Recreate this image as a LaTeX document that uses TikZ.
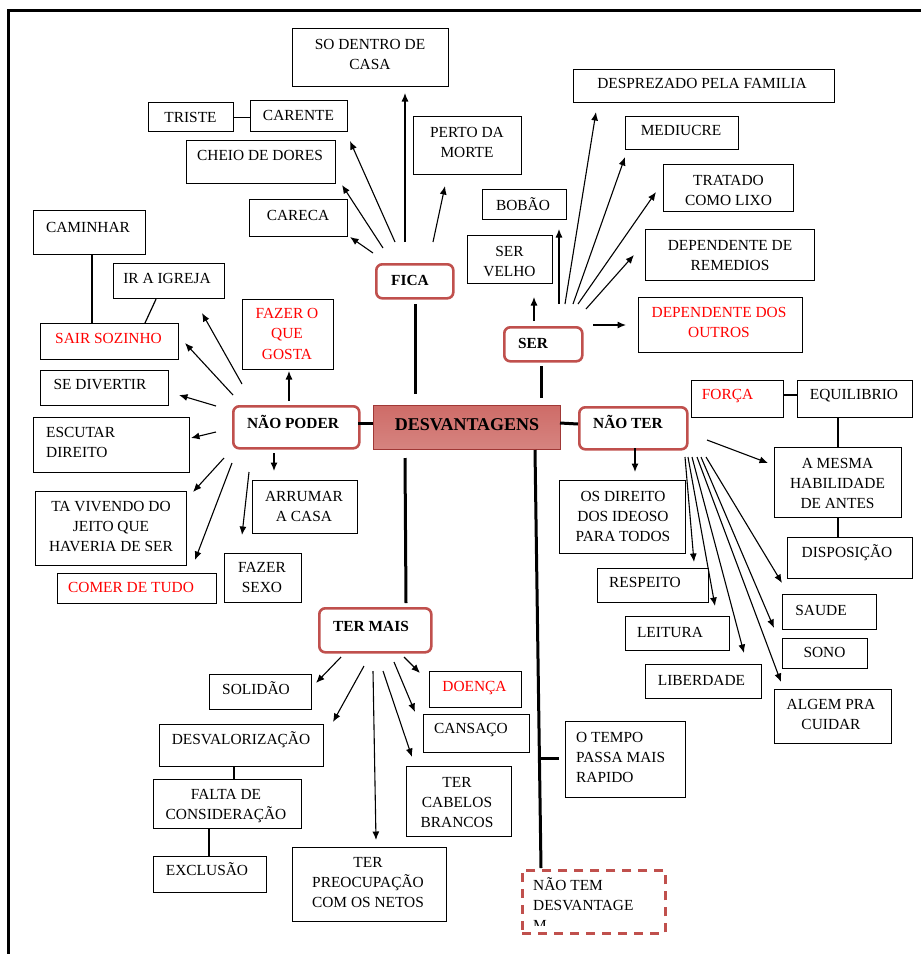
\documentclass[tikz,border=0pt]{standalone}
\usepackage{fontspec}
\setmainfont{Liberation Serif}
\usetikzlibrary{arrows.meta,calc}
\definecolor{hubred}{RGB}{192,80,77}
\definecolor{coretop}{RGB}{206,108,104}
\definecolor{coremid}{RGB}{186,68,66}
\definecolor{corebot}{RGB}{214,132,128}
\definecolor{coreline}{RGB}{160,56,54}
\tikzset{
 box/.style={draw=black, line width=1.2pt, rectangle, inner sep=0pt, fill=white},
 hub/.style={draw=hubred, line width=2.6pt, rounded corners=6pt, rectangle, inner sep=0pt, fill=white},
 dbox/.style={draw=hubred, line width=2.6pt, dash pattern=on 9pt off 7pt, rectangle, inner sep=0pt},
 core/.style={draw=coreline, line width=1pt, top color=coretop, middle color=coremid, bottom color=corebot, rectangle, inner sep=0pt},
 lbl/.style={inner sep=0pt, align=center, font=\fontsize{15.4}{20}\selectfont, anchor=north},
 hl/.style={font=\fontsize{15.4}{20}\selectfont\bfseries},
 lft/.style={align=left, anchor=north west},
 rt/.style={text=red},
 arr/.style={-{Latex[length=8.5pt,width=7pt]}, line width=1.1pt},
 thk/.style={line width=3pt},
 link/.style={line width=1.2pt},
}
\newcommand\bx[6]{\node[#2, anchor=north west, minimum width={(#5-#3)*1pt}, minimum height={(#6-#4)*1pt}] (#1) at (#3,#4) {};}
\newcommand\tx[5]{\node[lbl,#2] (#1-t) at (#3,#4-14) {\rule{0pt}{14pt}#5};}
\newcommand\ar[6]{\draw[arr] ([shift={(#2,#3)}]#1.north west) -- ([shift={(#5,#6)}]#4.north west);}
\begin{document}
\begin{tikzpicture}[x=1pt,y=-1pt]
\useasboundingbox (0,0) rectangle (921,954);
\draw[line width=3pt] (8,954) -- (8,10.5) -- (921,10.5);

% ---------- central node
\bx{desv}{core}{373}{405}{560}{449}
\tx{desv}{font=\fontsize{18}{22}\selectfont\bfseries}{467}{430}{DESVANTAGENS}

% ---------- FICA
\bx{fica}{hub}{375}{263}{452}{297} \tx{fica}{hl}{410}{285}{FICA}
\bx{sodentro}{box}{292}{28}{448}{86} \tx{sodentro}{}{370}{49}{SO DENTRO DE\\CASA}
\bx{triste}{box}{148}{102}{233}{131} \tx{triste}{}{190.5}{122}{TRISTE}
\bx{carente}{box}{250}{100}{347}{131} \tx{carente}{}{298.5}{120}{CARENTE}
\bx{cheio}{box}{186}{140}{335}{183} \tx{cheio}{}{260}{160}{CHEIO DE DORES}
\bx{careca}{box}{249}{199}{347}{236} \tx{careca}{}{298}{220}{CARECA}
\bx{perto}{box}{413}{116}{521}{174} \tx{perto}{}{467}{137}{PERTO DA\\MORTE}
\draw[link] (triste.east) -- (triste.east -| carente.west);
\ar{fica}{30}{-21}{sodentro}{113}{65}
\ar{fica}{58}{-21}{perto}{32}{70}
\ar{fica}{20}{-21}{carente}{100}{41}
\ar{fica}{8}{-15}{cheio}{156}{45}
\ar{fica}{-2}{-10}{careca}{101}{38}
\draw[thk] ([shift={(40,41)}]fica.north west) -- ([shift={(42,-11)}]desv.north west);

% ---------- SER
\bx{ser}{hub}{503}{326}{581}{360} \tx{ser}{hl}{533}{348}{SER}
\bx{servelho}{box}{467}{235}{552}{283} \tx{servelho}{}{509.5}{256}{SER\\VELHO}
\bx{bobao}{box}{482}{189}{566}{219} \tx{bobao}{}{523}{210}{BOBÃO}
\bx{desprezado}{box}{573}{69}{834}{102} \tx{desprezado}{}{702}{88}{DESPREZADO PELA FAMILIA}
\bx{mediucre}{box}{625}{116}{738}{149} \tx{mediucre}{}{681}{135}{MEDIUCRE}
\bx{tratado}{box}{663}{164}{793}{211} \tx{tratado}{}{728.5}{185}{TRATADO\\COMO LIXO}
\bx{deprem}{box}{645}{229}{814}{280} \tx{deprem}{}{730}{250}{DEPENDENTE DE\\REMEDIOS}
\bx{depout}{box}{638}{297}{802}{352} \tx{depout}{rt}{719}{317}{DEPENDENTE DOS\\OUTROS}
\ar{ser}{31}{-5}{servelho}{67}{62}
\ar{ser}{56}{-22}{bobao}{77}{40}
\ar{ser}{62}{-22}{desprezado}{23}{43}
\ar{ser}{70}{-22}{mediucre}{0}{41}
\ar{ser}{75}{-22}{tratado}{-7}{28}
\ar{ser}{83}{-17}{deprem}{-11}{26}
\ar{ser}{90}{-1}{depout}{-12}{28}
\draw[thk] ([shift={(38,40)}]ser.north west) -- ([shift={(168,-7)}]desv.north west);

% ---------- NAO PODER
\bx{np}{hub}{232}{405}{358}{447} \tx{np}{hl}{293}{428}{NÃO PODER}
\bx{fazer}{box}{242}{299}{333}{369} \tx{fazer}{rt,font=\fontsize{15.4}{20.5}\selectfont}{287}{318}{FAZER O\\QUE\\GOSTA}
\bx{caminhar}{box}{33}{210}{145}{254} \tx{caminhar}{}{88}{232}{CAMINHAR}
\bx{igreja}{box}{113}{263}{224}{298} \tx{igreja}{}{167}{283}{IR A IGREJA}
\bx{sair}{box}{40}{323}{178}{359} \tx{sair}{rt}{108.5}{343}{SAIR SOZINHO}
\bx{divertir}{box}{40}{370}{168}{405} \tx{divertir}{}{100}{389}{SE DIVERTIR}
\bx{escutar}{box}{33}{417}{189}{472} \tx{escutar}{lft}{46}{437}{ESCUTAR\\DIREITO}
\bx{tavivendo}{box}{35}{491}{186}{565} \tx{tavivendo}{}{111}{511}{TA VIVENDO DO\\JEITO QUE\\HAVERIA DE SER}
\bx{comer}{box}{57}{573}{216}{603} \tx{comer}{rt}{131}{592}{COMER DE TUDO}
\bx{sexo}{box}{224}{553}{301}{602} \tx{sexo}{}{262}{572}{FAZER\\SEXO}
\bx{arrumar}{box}{252}{480}{357}{533} \tx{arrumar}{}{304}{501}{ARRUMAR\\A CASA}
\draw[link] ([shift={(59,0)}]caminhar.south west) -- ([shift={(52,0)}]sair.north west);
\draw[link] ([shift={(43,0)}]igreja.south west) -- ([shift={(105,0)}]sair.north west);
\ar{np}{10}{-21}{igreja}{89}{50}
\ar{np}{1}{-10}{sair}{145}{20}
\ar{np}{-16}{1}{divertir}{139}{25}
\ar{np}{-16}{27}{escutar}{158}{21}
\ar{np}{-8}{53}{tavivendo}{158}{1}
\ar{np}{0}{58}{comer}{138}{-13}
\ar{np}{17}{67}{sexo}{18}{-18}
\ar{np}{42}{48}{arrumar}{22}{-9}
\ar{np}{57}{-4}{fazer}{47}{72}
\draw[thk] ([shift={(126,18)}]np.north west) -- ([shift={(0,18)}]desv.north west);

% ---------- NAO TER
\bx{naoter}{hub}{578}{406}{686}{448} \tx{naoter}{hl}{628}{428}{NÃO TER}
\bx{forca}{box}{691}{380}{783}{417} \tx{forca}{rt}{727.5}{399}{FORÇA}
\bx{equil}{box}{797}{380}{912}{417} \tx{equil}{}{854}{399}{EQUILIBRIO}
\bx{mesma}{box}{774}{447}{901}{517} \tx{mesma}{}{837.5}{468}{A MESMA\\HABILIDADE\\DE ANTES}
\bx{dispo}{box}{787}{537}{912}{578} \tx{dispo}{}{847}{557}{DISPOSIÇÃO}
\bx{osdireito}{box}{559}{480}{685}{553} \tx{osdireito}{}{623}{501}{OS DIREITO\\DOS IDEOSO\\PARA TODOS}
\bx{respeito}{box}{597}{568}{708}{602} \tx{respeito}{}{645}{587}{RESPEITO}
\bx{saude}{box}{782}{594}{876}{629} \tx{saude}{}{821}{615}{SAUDE}
\bx{leitura}{box}{625}{616}{729}{650} \tx{leitura}{}{670}{637}{LEITURA}
\bx{sono}{box}{782}{638}{867}{668} \tx{sono}{}{824.5}{657}{SONO}
\bx{liberdade}{box}{645}{664}{761}{698} \tx{liberdade}{}{701.5}{685}{LIBERDADE}
\bx{algem}{box}{774}{689}{891}{743} \tx{algem}{}{831}{709}{ALGEM PRA\\CUIDAR}
\draw[link] ([shift={(0,15)}]forca.north east) -- ([shift={(0,15)}]equil.north west);
\draw[link] ([shift={(41,0)}]equil.south west) -- ([shift={(64,0)}]mesma.north west);
\draw[link] ([shift={(64,0)}]mesma.south west) -- ([shift={(51,0)}]dispo.north west);
\ar{naoter}{57}{42}{osdireito}{76}{-8}
\ar{naoter}{129}{34}{mesma}{-6}{16}
\ar{naoter}{107}{51}{respeito}{97}{-6}
\ar{naoter}{110}{51}{leitura}{90}{-10}
\ar{naoter}{114}{51}{liberdade}{99}{-11}
\ar{naoter}{119}{51}{algem}{7}{-7}
\ar{naoter}{123}{51}{sono}{-8}{-10}
\ar{naoter}{128}{51}{saude}{0}{-11}
\draw[thk] ([shift={(187,18)}]desv.north west) -- ([shift={(0,18)}]naoter.north west);

% ---------- TER MAIS
\bx{termais}{hub}{318}{607}{430}{651} \tx{termais}{hl}{371}{631}{TER MAIS}
\bx{solidao}{box}{209}{674}{311}{709} \tx{solidao}{}{256}{694}{SOLIDÃO}
\bx{desval}{box}{159}{724}{323}{766} \tx{desval}{}{241}{744}{DESVALORIZAÇÃO}
\bx{falta}{box}{153}{779}{301}{828} \tx{falta}{}{226}{799}{FALTA DE\\CONSIDERAÇÃO}
\bx{exclusao}{box}{153}{856}{266}{892} \tx{exclusao}{}{207}{875}{EXCLUSÃO}
\bx{preoc}{box}{292}{847}{446}{921} \tx{preoc}{}{368}{867}{TER\\PREOCUPAÇÃO\\COM OS NETOS}
\bx{doenca}{box}{429}{671}{521}{707} \tx{doenca}{rt}{474.5}{691}{DOENÇA}
\bx{cansaco}{box}{423}{714}{529}{752} \tx{cansaco}{}{471}{733}{CANSAÇO}
\bx{cabelos}{box}{406}{766}{511}{836} \tx{cabelos}{}{457}{787}{TER\\CABELOS\\BRANCOS}
\draw[link] ([shift={(75,0)}]desval.south west) -- ([shift={(81,0)}]falta.north west);
\draw[link] ([shift={(56,0)}]falta.south west) -- ([shift={(56,0)}]exclusao.north west);
\ar{termais}{23}{50}{solidao}{107}{9}
\ar{termais}{46}{59}{desval}{174}{-2}
\ar{termais}{55}{64}{preoc}{84}{-7}
\ar{termais}{65}{64}{cabelos}{6}{-9}
\ar{termais}{76}{55}{cansaco}{-8}{-2}
\ar{termais}{86}{50}{doenca}{-9}{2}
\draw[thk] ([shift={(32,53)}]desv.north west) -- ([shift={(88,-4)}]termais.north west);

% ---------- right trunk
\bx{otempo}{box}{565}{721}{685}{797} \tx{otempo}{lft}{576}{742}{O TEMPO\\PASSA MAIS\\RAPIDO}
\bx{naotem}{dbox}{521}{869}{664}{932}
\begin{scope}
\clip (521,869) rectangle (664,925);
\tx{naotem}{lft}{533}{890}{NÃO TEM\\DESVANTAGE\\M}
\end{scope}
\draw[thk] ([shift={(162,45)}]desv.north west) -- coordinate[pos=0.739] (tb) ([shift={(20,-1)}]naotem.north west);
\draw[thk, shorten >=6pt] (tb) -- (tb -| otempo.west);
\end{tikzpicture}
\end{document}
